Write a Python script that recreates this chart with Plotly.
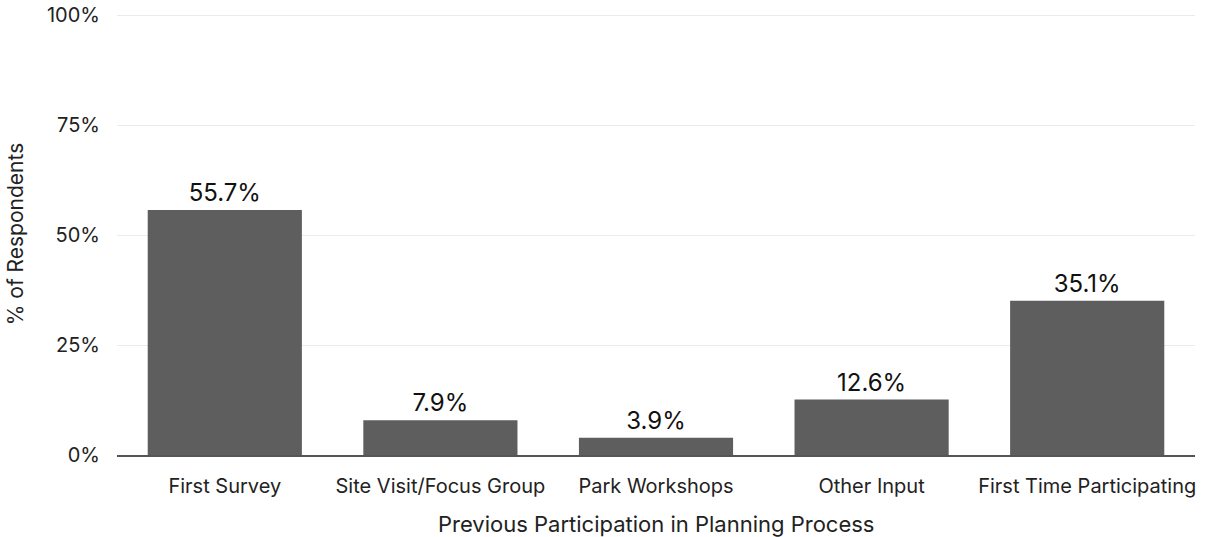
import plotly.graph_objects as go

CATEGORIES = ["First Survey", "Site Visit/Focus Group", "Park Workshops", "Other Input", "First Time Participating"]
PERCENTS = [55.7, 7.9, 3.9, 12.6, 35.1]
Y_TICKS = [0, 25, 50, 75, 100]
Y_TICK_LABELS = ["0%", "25%", "50%", "75%", "100%"]
X_TITLE = "Previous Participation in Planning Process"

FONT = "Inter, Roboto, sans-serif"
BAR_COLOR = "#5e5e5e"

fig = go.Figure(go.Bar(
    x=CATEGORIES, y=PERCENTS,
    marker=dict(color=BAR_COLOR, line=dict(width=0)),
    text=[f"{v}%" for v in PERCENTS], textposition="outside",
    textfont=dict(size=24, color="#111", family=FONT), cliponaxis=False,
))
fig.update_layout(
    width=1208, height=537, template="plotly_white",
    margin=dict(l=117, r=13, t=13, b=82, autoexpand=False),
    bargap=0.285, showlegend=False,
    font=dict(family=FONT, size=20, color="#222"),
    plot_bgcolor="white", paper_bgcolor="white",
)
# range goes a hair past 100 so the top gridline is still drawn
fig.update_yaxes(
    range=[0, 100.5], tickmode="array", tickvals=Y_TICKS, ticktext=Y_TICK_LABELS,
    gridcolor="#ebebeb", gridwidth=1, zeroline=False, automargin=False,
    showline=False, ticklabelstandoff=16,
    title=dict(text="% of Respondents", standoff=17, font=dict(size=21)),
)
fig.update_xaxes(
    showline=True, linecolor="#555", linewidth=1.5, automargin=False,
    ticklabelstandoff=12,
)
# x title as an annotation, placed low near the bottom edge
fig.add_annotation(text=X_TITLE, xref="paper", yref="paper", x=0.5, y=0,
                   yanchor="middle", yshift=-69, showarrow=False,
                   font=dict(size=22, family=FONT, color="#222"))
# drop the default body margin so the figure fills the window exactly
fig.write_html("out.html", config={"displayModeBar": False},
               post_script="document.body.style.margin='0';")
